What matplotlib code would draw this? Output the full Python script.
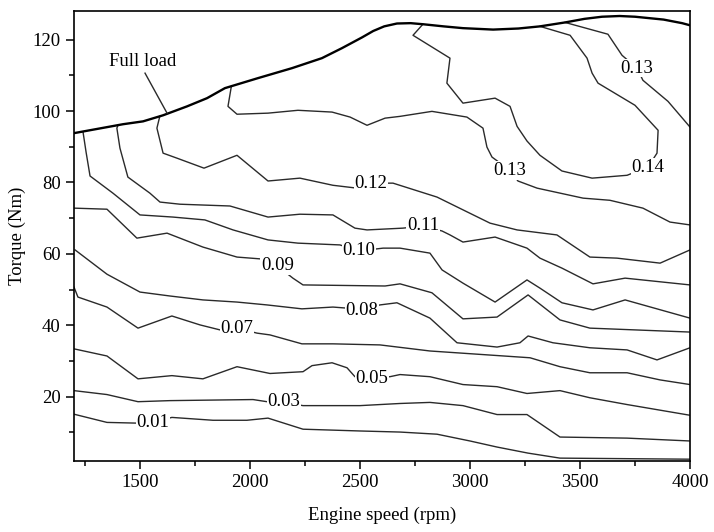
import matplotlib
matplotlib.use("Agg")
import matplotlib.pyplot as plt
from matplotlib.ticker import MultipleLocator

plt.rcParams["font.family"] = ["Liberation Serif", "DejaVu Serif"]
plt.rcParams["font.size"] = 13.5

# full load curve (rpm, Nm)
full_rpm = [1200, 1423, 1514, 1605, 1714, 1805, 1886, 2036, 2191, 2327, 2418, 2509,
            2560, 2610, 2668, 2730, 2786, 2880, 2968, 3105, 3220, 3318, 3432, 3520,
            3600, 3680, 3750, 3880, 3964, 4000]
full_tq = [93.8, 96.3, 97.1, 98.8, 101.3, 103.6, 106.4, 109.2, 112.0, 114.8, 117.6, 120.6,
           122.4, 123.7, 124.5, 124.6, 124.3, 123.7, 123.2, 122.8, 123.1, 123.7, 124.8, 125.8,
           126.4, 126.6, 126.4, 125.6, 124.6, 124.0]

# contour lines: level -> (rpm, torque)
c001_rpm = [1200, 1350, 1486, 1559, 1645, 1832, 1986, 2082, 2241, 2500, 2682, 2850, 3000,
            3123, 3264, 3409, 4000]
c001_tq = [15.1, 12.8, 12.6, 12.8, 14.2, 13.4, 13.4, 14.0, 10.9, 10.4, 10.1, 9.5, 7.6,
           5.9, 4.2, 2.8, 2.5]

c003_rpm = [1200, 1350, 1491, 1636, 2014, 2077, 2155, 2241, 2500, 2682, 2818, 2968, 3123,
            3259, 3409, 3714, 4000]
c003_tq = [21.7, 20.6, 18.6, 18.9, 19.2, 18.6, 18.4, 17.5, 17.5, 18.1, 18.4, 17.5, 15.0,
           15.0, 8.7, 8.4, 7.6]

c005_rpm = [1200, 1350, 1491, 1645, 1786, 1941, 2091, 2241, 2282, 2373, 2441, 2477, 2555,
            2636, 2682, 2818, 2968, 3123, 3259, 3409, 3545, 3714, 4000]
c005_tq = [33.4, 31.4, 25.0, 25.9, 25.0, 28.4, 26.5, 27.0, 28.7, 29.5, 28.1, 25.6, 25.3,
           25.6, 26.2, 25.6, 23.4, 22.8, 20.9, 21.7, 19.7, 17.8, 14.8]

c007_rpm = [1200, 1218, 1350, 1491, 1645, 1773, 1864, 1941, 2032, 2091, 2236, 2377, 2591,
            2818, 3273, 3409, 3545, 3714, 3864, 4000]
c007_tq = [50.7, 47.9, 45.1, 39.2, 42.6, 40.1, 38.7, 39.2, 37.8, 37.3, 34.8, 34.8, 34.5,
           32.8, 30.9, 28.4, 26.7, 26.7, 24.7, 23.4]

c008_rpm = [1205, 1350, 1500, 1636, 1786, 1941, 2077, 2236, 2377, 2441, 2509, 2591, 2668,
            2818, 2941, 3123, 3227, 3264, 3377, 3545, 3714, 3850, 4000]
c008_tq = [61.1, 54.3, 49.3, 48.2, 47.1, 46.5, 45.7, 44.6, 45.1, 44.8, 44.3, 45.7, 46.3,
           42.0, 35.1, 33.9, 35.1, 37.0, 35.1, 33.7, 33.1, 30.3, 33.7]

c009_rpm = [1200, 1350, 1486, 1623, 1786, 1941, 2045, 2125, 2195, 2241, 2614, 2682, 2827,
            2968, 3123, 3264, 3409, 3545, 4000]
c009_tq = [72.8, 72.5, 64.4, 65.8, 61.9, 59.1, 58.6, 56.6, 53.2, 51.3, 51.0, 51.6, 49.1,
           41.8, 42.3, 48.5, 41.5, 39.2, 38.1]

c010_rpm = [1241, 1255, 1273, 1377, 1500, 1650, 1795, 1923, 2082, 2218, 2409, 2495, 2605,
            2682, 2818, 2873, 2968, 3114, 3259, 3318, 3418, 3559, 3705, 4000]
c010_tq = [94.2, 88.5, 81.8, 77.0, 70.9, 70.3, 69.5, 66.7, 63.9, 63.0, 62.5, 60.8, 61.6,
           61.6, 60.2, 55.5, 51.8, 46.5, 52.7, 50.4, 46.3, 44.3, 47.1, 42.0]

c011_rpm = [1400, 1395, 1409, 1445, 1545, 1591, 1682, 1909, 2082, 2227, 2377, 2477, 2532,
            2695, 2786, 2873, 2909, 2968, 3114, 3259, 3318, 3418, 3559, 3705, 4000]
c011_tq = [96.0, 95.2, 89.6, 81.5, 77.0, 74.5, 73.9, 73.4, 70.3, 71.1, 70.9, 67.2, 66.7,
           67.2, 67.8, 66.4, 65.3, 63.3, 64.7, 61.6, 58.8, 56.0, 51.6, 53.2, 51.3]

c012_rpm = [1590, 1577, 1605, 1668, 1791, 1941, 2082, 2227, 2377, 2486, 2550, 2650, 2850,
            3091, 3214, 3395, 3545, 3668, 3864, 4000]
c012_tq = [98.5, 95.2, 88.2, 86.8, 84.0, 87.6, 80.4, 81.2, 79.2, 78.4, 79.8, 79.8, 75.9,
           68.6, 66.7, 65.3, 59.1, 58.8, 57.4, 61.1]

c013a_rpm = [1915, 1900, 1941, 2082, 2218, 2373, 2455, 2532, 2614, 2682, 2827, 2986, 3059,
             3077, 3100, 3182, 3218, 3305, 3514, 3636, 3786, 3909, 4000]
c013a_tq = [106.8, 101.3, 99.1, 99.4, 100.2, 99.7, 98.3, 96.0, 98.0, 98.5, 99.9, 98.3, 95.2,
            89.9, 87.1, 83.4, 80.4, 78.4, 75.6, 75.0, 72.8, 68.9, 68.1]

c013b_rpm = [3432, 3627, 3691, 3759, 3786, 3900, 4000]
c013b_tq = [124.8, 121.5, 115.6, 112.0, 108.6, 102.7, 95.5]

c014_rpm = [2786, 2741, 2909, 2895, 2968, 3114, 3182, 3214, 3259, 3318, 3418, 3555, 3714,
            3809, 3850, 3855, 3750, 3582, 3555, 3532, 3455, 3318]
c014_tq = [124.3, 121.2, 114.8, 107.8, 102.2, 103.6, 101.3, 95.7, 91.6, 87.6, 83.2, 81.2,
           82.0, 84.3, 88.2, 94.6, 101.6, 107.8, 110.6, 114.8, 121.2, 123.7]

contours = [
    (c001_rpm, c001_tq, "0.01", (1559, 12.8)),
    (c003_rpm, c003_tq, "0.03", (2155, 18.6)),
    (c005_rpm, c005_tq, "0.05", (2555, 25.2)),
    (c007_rpm, c007_tq, "0.07", (1941, 39.2)),
    (c008_rpm, c008_tq, "0.08", (2509, 44.0)),
    (c009_rpm, c009_tq, "0.09", (2125, 56.6)),
    (c010_rpm, c010_tq, "0.10", (2495, 60.8)),
    (c011_rpm, c011_tq, "0.11", (2786, 67.8)),
    (c012_rpm, c012_tq, "0.12", (2550, 79.8)),
    (c013a_rpm, c013a_tq, "0.13", (3182, 83.4)),
    (c013b_rpm, c013b_tq, "0.13", (3759, 112.0)),
    (c014_rpm, c014_tq, "0.14", (3809, 84.3)),
]

fig = plt.figure(figsize=(7.14, 5.32), dpi=100)
ax = fig.add_axes([0.1036, 0.1335, 0.8628, 0.8458])

for xs, ys, lab, pos in contours:
    ax.plot(xs, ys, color="#2a2a2a", lw=1.0, zorder=2)
    ax.text(pos[0], pos[1], lab, ha="center", va="center", zorder=4,
            bbox=dict(fc="white", ec="none", pad=0.6))

# full load line + annotation
ax.plot(full_rpm, full_tq, color="black", lw=1.7, zorder=3)
ax.plot([1523, 1623], [110.6, 99.4], color="#2a2a2a", lw=1.0, zorder=3)
ax.text(1514, 113.8, "Full load", ha="center", va="center")

ax.set_xlim(1200, 4000)
ax.set_ylim(2, 128)
ax.xaxis.set_major_locator(MultipleLocator(500))
ax.xaxis.set_minor_locator(MultipleLocator(250))
ax.yaxis.set_major_locator(MultipleLocator(20))
ax.yaxis.set_minor_locator(MultipleLocator(10))
ax.tick_params(which="major", direction="out", length=6, width=1.1)
ax.tick_params(which="minor", direction="out", length=3.5, width=1.1)
for sp in ax.spines.values():
    sp.set_linewidth(1.2)

ax.set_xlabel("Engine speed (rpm)", labelpad=11)
ax.set_ylabel("Torque (Nm)", labelpad=5)

fig.savefig("out.png", dpi=100)
